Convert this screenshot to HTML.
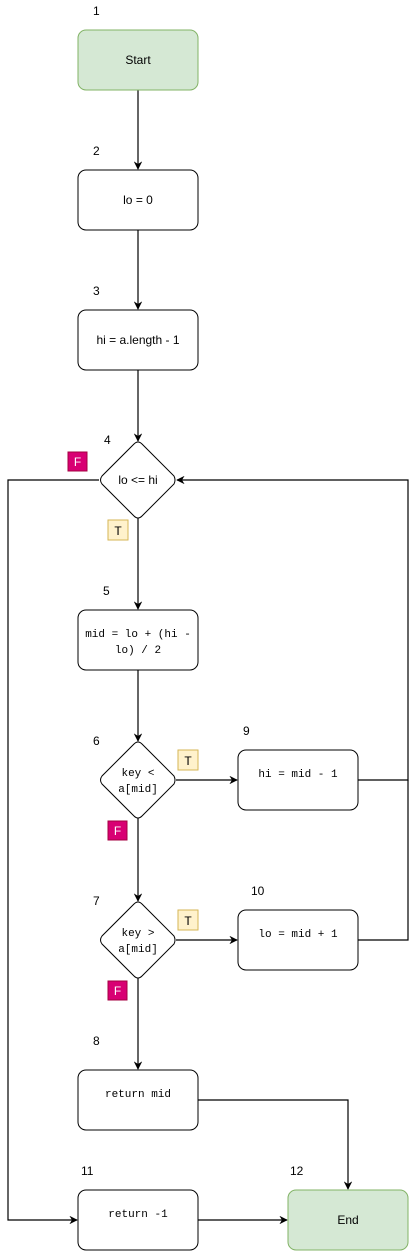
<!DOCTYPE html>
<html><head><meta charset="utf-8"><style>
html,body{margin:0;padding:0;background:#fff;}
svg{display:block;font-family:"Liberation Sans",sans-serif;}
.mono{font-family:"Liberation Mono","DejaVu Sans Mono",monospace;}
</style></head><body>
<svg width="416" height="1252" viewBox="0 0 416 1252">
<defs><marker id="ar" viewBox="0 0 10 10" refX="9" refY="5" markerWidth="7" markerHeight="7" orient="auto"><path d="M0,0 L10,5 L0,10 L3,5 z" fill="#000"/></marker></defs>
<g fill="none" stroke="#000" stroke-width="1.2">
<line x1="138" y1="90" x2="138" y2="169" marker-end="url(#ar)"/>
<line x1="138" y1="230" x2="138" y2="309" marker-end="url(#ar)"/>
<line x1="138" y1="370" x2="138" y2="441" marker-end="url(#ar)"/>
<line x1="138" y1="518" x2="138" y2="609" marker-end="url(#ar)"/>
<line x1="138" y1="670" x2="138" y2="741" marker-end="url(#ar)"/>
<line x1="138" y1="818" x2="138" y2="901" marker-end="url(#ar)"/>
<line x1="138" y1="978" x2="138" y2="1069" marker-end="url(#ar)"/>
<line x1="176" y1="780" x2="237" y2="780" marker-end="url(#ar)"/>
<line x1="176" y1="940" x2="237" y2="940" marker-end="url(#ar)"/>
<polyline points="358,780 408,780 408,480 177,480" marker-end="url(#ar)"/>
<polyline points="358,940 408,940 408,780"/>
<polyline points="99,480 8,480 8,1220 77,1220" marker-end="url(#ar)"/>
<polyline points="198,1100 348,1100 348,1189" marker-end="url(#ar)"/>
<line x1="198" y1="1220" x2="287" y2="1220" marker-end="url(#ar)"/>
</g>
<g stroke="#000" stroke-width="1" fill="#fff">
<rect x="78" y="30" width="120" height="60" rx="8" fill="#d5e8d4" stroke="#82b366"/>
<rect x="78" y="170" width="120" height="60" rx="8"/>
<rect x="78" y="310" width="120" height="60" rx="8"/>
<path d="M138,442 Q140,442 142,444 L174,476 Q176,480 174,484 L142,516 Q138,520 134,516 L102,484 Q99,480 102,476 L134,444 Q136,442 138,442z"/>
<rect x="78" y="610" width="120" height="60" rx="8"/>
<path d="M138,742 Q140,742 142,744 L174,776 Q176,780 174,784 L142,816 Q138,820 134,816 L102,784 Q99,780 102,776 L134,744 Q136,742 138,742z"/>
<rect x="238" y="750" width="120" height="60" rx="8"/>
<path d="M138,902 Q140,902 142,904 L174,936 Q176,940 174,944 L142,976 Q138,980 134,976 L102,944 Q99,940 102,936 L134,904 Q136,902 138,902z"/>
<rect x="238" y="910" width="120" height="60" rx="8"/>
<rect x="78" y="1070" width="120" height="60" rx="8"/>
<rect x="78" y="1190" width="120" height="60" rx="8"/>
<rect x="288" y="1190" width="120" height="60" rx="8" fill="#d5e8d4" stroke="#82b366"/>
</g>
<g font-size="12" fill="#000" text-anchor="middle">
<text x="138" y="64">Start</text>
<text x="138" y="204">lo = 0</text>
<text x="138" y="344">hi = a.length - 1</text>
<text x="138" y="484">lo &lt;= hi</text>
<text class="mono" x="138" y="637" font-size="11">mid = lo + (hi -</text>
<text class="mono" x="138" y="653" font-size="11">lo) / 2</text>
<text class="mono" x="138" y="776" font-size="11">key &lt;</text>
<text class="mono" x="138" y="792" font-size="11">a[mid]</text>
<text class="mono" x="298" y="777" font-size="11">hi = mid - 1</text>
<text class="mono" x="138" y="936" font-size="11">key &gt;</text>
<text class="mono" x="138" y="952" font-size="11">a[mid]</text>
<text class="mono" x="298" y="937" font-size="11">lo = mid + 1</text>
<text class="mono" x="138" y="1097" font-size="11">return mid</text>
<text class="mono" x="138" y="1217" font-size="11">return -1</text>
<text x="348" y="1224">End</text>
</g>
<g font-size="12" fill="#000">
<text x="93" y="15">1</text><text x="93" y="155">2</text><text x="93" y="295">3</text>
<text x="104" y="444">4</text><text x="103" y="595">5</text><text x="93" y="745">6</text>
<text x="243" y="735">9</text><text x="93" y="905">7</text><text x="251" y="895">10</text>
<text x="93" y="1045">8</text><text x="81" y="1175">11</text><text x="290" y="1175">12</text>
</g>
<g font-size="12" text-anchor="middle">
<rect x="68" y="452" width="19" height="19" fill="#d80073" stroke="#a50040"/><text x="77.5" y="466" fill="#fff">F</text>
<rect x="108" y="520" width="20" height="20" fill="#fff2cc" stroke="#d6b656"/><text x="118" y="535">T</text>
<rect x="178" y="750" width="20" height="20" fill="#fff2cc" stroke="#d6b656"/><text x="188" y="765">T</text>
<rect x="108" y="821" width="19" height="19" fill="#d80073" stroke="#a50040"/><text x="117.5" y="835" fill="#fff">F</text>
<rect x="178" y="910" width="20" height="20" fill="#fff2cc" stroke="#d6b656"/><text x="188" y="925">T</text>
<rect x="108" y="981" width="19" height="19" fill="#d80073" stroke="#a50040"/><text x="117.5" y="995" fill="#fff">F</text>
</g>
</svg>
</body></html>
